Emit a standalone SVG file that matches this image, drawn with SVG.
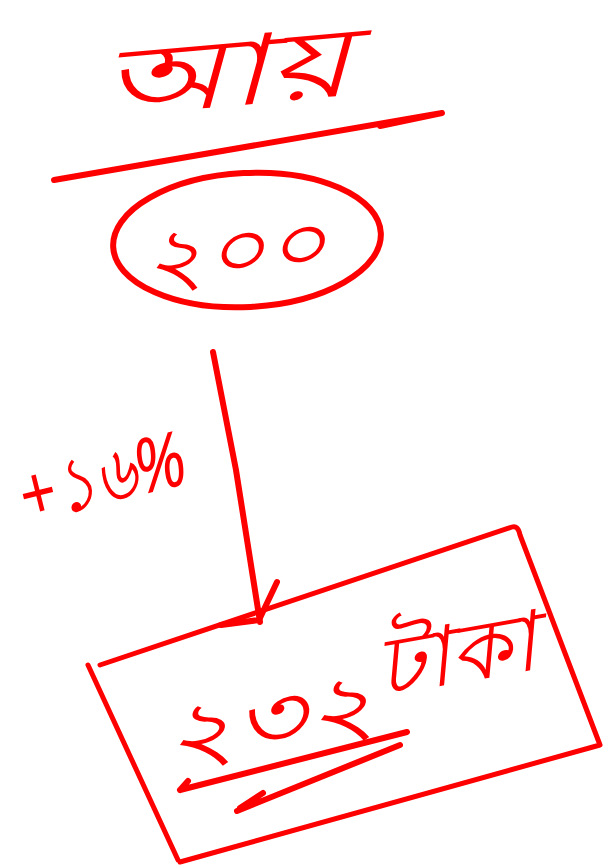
<svg xmlns="http://www.w3.org/2000/svg" width="616" height="865" viewBox="0 0 616 865">
<style>
.ink{fill:none;stroke:#ff0000;stroke-width:6;stroke-linecap:round;stroke-linejoin:round}
.thin{fill:none;stroke:#ff0000;stroke-width:5;stroke-linecap:round;stroke-linejoin:round}
.hand{fill:#ff0000;font-family:"Noto Sans","DejaVu Sans","Liberation Sans",sans-serif;font-style:italic}
</style>
<rect width="616" height="865" fill="#ffffff"/>
<g id="income">
<text class="hand" x="100" y="106" font-size="96" textLength="250" lengthAdjust="spacingAndGlyphs" transform="rotate(-5 225 65)">আয়</text>
<path class="ink" d="M54 180 Q250 146 442 113 M380 126 L442 113"/>
</g>
<g id="value-200">
<ellipse class="ink" cx="247" cy="240" rx="134" ry="67" transform="rotate(-3 247 240)"/>
<text class="hand" x="142" y="278" font-size="80" textLength="185" lengthAdjust="spacingAndGlyphs" transform="rotate(-6 235 250)">২০০</text>
</g>
<g id="value-232">
<path class="thin" d="M88 665 L178 860 M100 665 L512 527 Q518 525 520 535 L600 745 L180 862"/>
<text class="hand" x="160" y="748" font-size="84" textLength="215" lengthAdjust="spacingAndGlyphs" transform="rotate(-10 270 710)">২৩২</text>
<text class="hand" x="372" y="684" font-size="82" textLength="162" lengthAdjust="spacingAndGlyphs" transform="rotate(-10 450 640)">টাকা</text>
<path class="ink" d="M407 732 L180 790 M180 790 L188 781 M400 745 L237 811 M240 808 L263 793"/>
</g>
<g id="connectors">
<path class="ink" d="M213 352 L236 470 L260 622"/>
<path class="ink" d="M277 582 L259 620 M221 625 L259 620"/>
<text class="hand" x="14" y="504" font-size="76" textLength="170" lengthAdjust="spacingAndGlyphs" transform="rotate(-14 100 467)">+১৬%</text>
</g>
</svg>
